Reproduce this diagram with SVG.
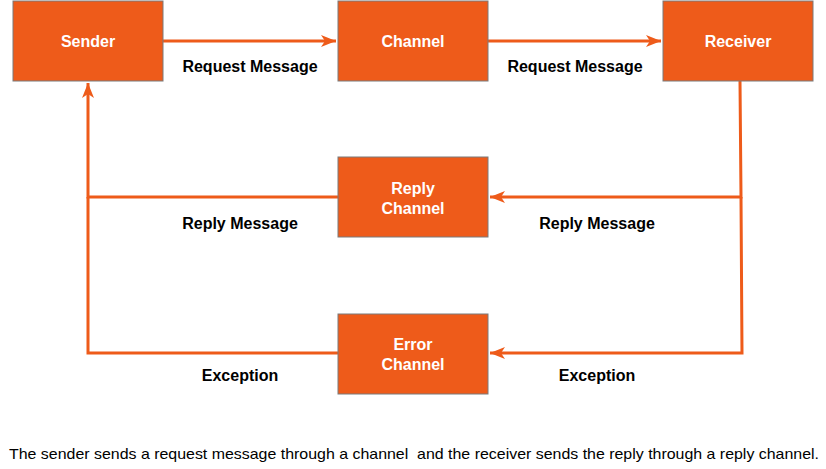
<svg xmlns="http://www.w3.org/2000/svg" width="826" height="469" viewBox="0 0 826 469">
<style>
.box{fill:#EE5B1A;stroke:#7A7A7A;stroke-width:1}
.bt{font-family:"Liberation Sans",Arial,sans-serif;font-size:16px;font-weight:bold;fill:#fff;text-anchor:middle}
.lbl{font-family:"Liberation Sans",Arial,sans-serif;font-size:16px;font-weight:bold;fill:#000;text-anchor:middle}
.cap{font-family:"Liberation Sans",Arial,sans-serif;font-size:15px;fill:#000;white-space:pre}
.ln{fill:none;stroke:#EE5B1A;stroke-width:3}
</style>
<defs>
<marker id="ah" markerWidth="16" markerHeight="12" refX="15" refY="6" orient="auto" markerUnits="userSpaceOnUse">
<path d="M0,0 L15,6 L0,12 L4,6 Z" fill="#EE5B1A"/>
</marker>
</defs>
<rect width="826" height="469" fill="#fff"/>
<g id="connectors">
<path class="ln" d="M163,41 L336,41" marker-end="url(#ah)"/>
<path class="ln" d="M488,41 L661,41" marker-end="url(#ah)"/>
<path class="ln" d="M740,81 L741,197 L490,197" marker-end="url(#ah)"/>
<path class="ln" d="M741,197 L742,353 L490,353" marker-end="url(#ah)"/>
<path class="ln" d="M338,197 L88,197 L88,83" marker-end="url(#ah)"/>
<path class="ln" d="M338,353 L88,353 L88,197"/>
</g>
<g id="labels">
<text class="lbl" x="250" y="72">Request Message</text>
<text class="lbl" x="575" y="72">Request Message</text>
<text class="lbl" x="240" y="229">Reply Message</text>
<text class="lbl" x="597" y="229">Reply Message</text>
<text class="lbl" x="240" y="381">Exception</text>
<text class="lbl" x="597" y="381">Exception</text>
</g>
<g id="sender"><rect class="box" x="13" y="1" width="150" height="80"/><text class="bt" x="88" y="47">Sender</text></g>
<g id="channel"><rect class="box" x="338" y="1" width="150" height="80"/><text class="bt" x="413" y="47">Channel</text></g>
<g id="receiver"><rect class="box" x="663" y="1" width="150" height="80"/><text class="bt" x="738" y="47">Receiver</text></g>
<g id="reply-channel"><rect class="box" x="338" y="157" width="150" height="80"/><text class="bt" x="413" y="194">Reply</text><text class="bt" x="413" y="214">Channel</text></g>
<g id="error-channel"><rect class="box" x="338" y="314" width="150" height="80"/><text class="bt" x="413" y="350">Error</text><text class="bt" x="413" y="370">Channel</text></g>
<text class="cap" x="9" y="459" textLength="810" lengthAdjust="spacingAndGlyphs" xml:space="preserve">The sender sends a request message through a channel  and the receiver sends the reply through a reply channel.</text>
</svg>
